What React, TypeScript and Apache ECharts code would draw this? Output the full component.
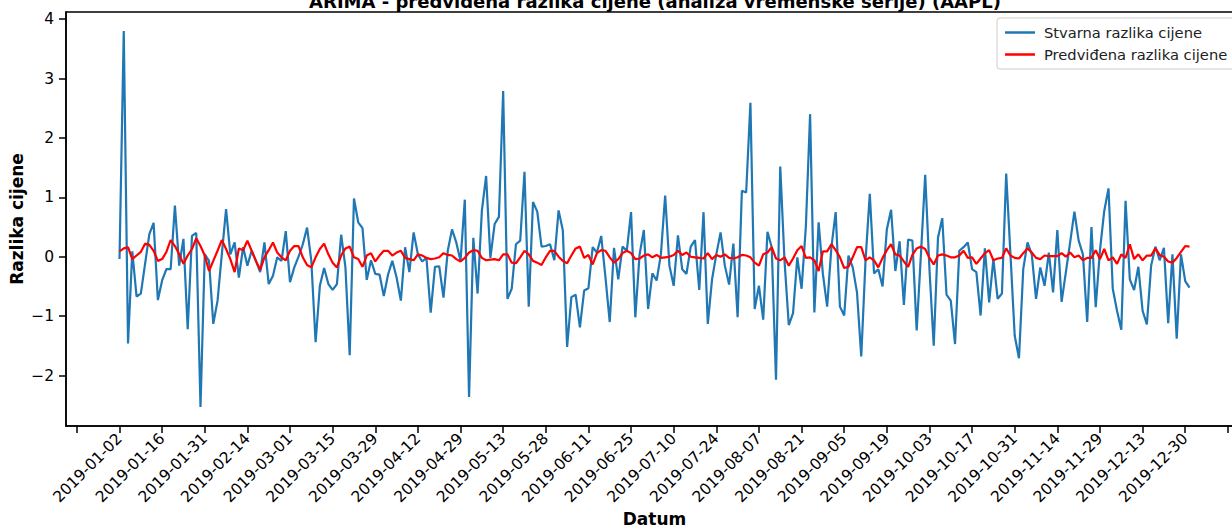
import React, { useEffect, useRef } from "react";
import * as echarts from "echarts";

const TITLE = "ARIMA - predviđena razlika cijene (analiza vremenske serije) (AAPL)";
const SERIES_ACTUAL = "Stvarna razlika cijene";
const SERIES_PRED = "Predviđena razlika cijene";

const dateLabels = [
  "2019-01-02", "2019-01-16", "2019-01-31", "2019-02-14", "2019-03-01", "2019-03-15",
  "2019-03-29", "2019-04-12", "2019-04-29", "2019-05-13", "2019-05-28", "2019-06-11",
  "2019-06-25", "2019-07-10", "2019-07-24", "2019-08-07", "2019-08-21", "2019-09-05",
  "2019-09-19", "2019-10-03", "2019-10-17", "2019-10-31", "2019-11-14", "2019-11-29",
  "2019-12-13", "2019-12-30",
];
const xTickIdx = [-10, 0, 10, 20, 30, 40, 50, 60, 70, 80, 90, 100, 110, 120, 130, 140, 150, 160, 170, 180, 190, 200, 210, 220, 230, 240, 250, 260];
const xLabelIdx = [0, 10, 20, 30, 40, 50, 60, 70, 80, 90, 100, 110, 120, 130, 140, 150, 160, 170, 180, 190, 200, 210, 220, 230, 240, 250];
const yTicks = [-2, -1, 0, 1, 2, 3, 4];

const actual = [
  -0.04, 3.8, -1.46, 0.09, -0.67, -0.62, -0.12, 0.38, 0.57, -0.73,
  -0.4, -0.21, -0.21, 0.86, -0.15, 0.3, -1.22, 0.35, 0.4, -2.53,
  0.04, -0.07, -1.13, -0.74, 0.04, 0.8, 0.04, 0.24, -0.35, 0.16,
  -0.15, 0.1, -0.07, -0.26, 0.24, -0.46, -0.32, -0.01, -0.07, 0.43,
  -0.43, -0.18, 0.0, 0.21, 0.49, -0.07, -1.44, -0.49, -0.19, -0.46,
  -0.56, -0.46, 0.37, -0.18, -1.66, 0.98, 0.58, 0.48, -0.39, -0.06,
  -0.29, -0.3, -0.66, -0.3, -0.07, -0.35, -0.74, 0.16, -0.26, 0.41,
  0.04, -0.08, -0.02, -0.94, -0.17, -0.16, -0.69, 0.1, 0.46, 0.24,
  -0.07, 0.96, -2.36, 0.32, -0.62, 0.77, 1.36, -0.02, 0.55, 0.67,
  2.79, -0.71, -0.54, 0.21, 0.27, 1.43, -0.84, 0.92, 0.76, 0.17,
  0.18, 0.21, -0.06, 0.78, 0.44, -1.52, -0.68, -0.64, -1.19, -0.57,
  -0.53, 0.16, 0.07, 0.35, -0.35, -1.1, 0.15, -0.38, 0.17, 0.1,
  0.75, -1.02, 0.04, 0.45, -0.88, -0.28, -0.4, 0.04, 1.03, -0.15,
  -0.49, 0.36, -0.21, -0.29, 0.17, 0.28, -0.56, 0.75, -1.13, -0.38,
  0.04, 0.41, -0.15, -0.47, 0.22, -1.02, 1.11, 1.08, 2.59, -0.88,
  -0.49, -1.06, 0.42, 0.16, -2.07, 1.52, -0.07, -1.15, -0.95, -0.01,
  -0.54, 0.5, 2.4, -0.94, 0.58, -0.29, -0.84, 0.16, 0.75, -0.84,
  -0.99, 0.02, -0.18, -0.6, -1.68, -0.07, 1.06, -0.28, -0.21, -0.5,
  0.46, 0.79, -0.24, 0.26, -0.81, 0.29, 0.27, -1.24, 0.04, 1.38,
  -0.21, -1.5, 0.32, 0.65, -0.64, -0.74, -1.47, 0.1, 0.16, 0.24,
  -0.21, -0.26, -0.99, 0.14, -0.77, -0.04, -0.71, -0.62, 1.4, 0.04,
  -1.33, -1.71, -0.21, 0.24, 0.04, -0.71, -0.18, -0.49, 0.07, -0.6,
  0.45, -0.76, -0.26, 0.24, 0.76, 0.27, 0.04, -1.1, 0.5, -0.85,
  0.11, 0.77, 1.15, -0.54, -0.91, -1.23, 0.94, -0.38, -0.56, -0.17,
  -0.91, -1.14, -0.15, 0.17, -0.06, 0.15, -1.12, 0.04, -1.38, 0.04,
  -0.41, -0.52,
];

const predicted = [
  0.09, 0.14, 0.16, -0.04, 0.02, 0.08, 0.22, 0.2, 0.1, -0.07,
  -0.04, 0.08, 0.28, 0.18, 0.04, -0.12, 0.02, 0.13, 0.31, 0.18,
  0.02, -0.24, -0.07, 0.1, 0.28, 0.13, -0.04, -0.26, 0.14, 0.11,
  0.27, 0.1, -0.07, -0.22, -0.01, 0.11, 0.24, 0.07, -0.01, -0.06,
  0.1, 0.18, 0.18, -0.01, -0.14, -0.18, -0.01, 0.13, 0.22, 0.04,
  -0.1, -0.18, 0.02, 0.14, 0.17, -0.01, -0.04, -0.17, 0.02, 0.06,
  -0.08, 0.02, 0.1, 0.1, 0.02, 0.07, 0.1, -0.02, -0.04, -0.06,
  0.04, 0.02, -0.02, -0.04, -0.03, -0.01, 0.06, 0.03, 0.02, -0.04,
  -0.08, -0.02, 0.07, 0.11, 0.1, -0.02, -0.06, -0.05, -0.04, -0.06,
  0.04, 0.04, -0.1, -0.11, -0.01, 0.1, 0.04, -0.07, -0.1, -0.14,
  -0.01, 0.1, 0.1, 0.0, -0.07, -0.11, 0.02, 0.14, 0.17, -0.02,
  0.03, -0.13, 0.06, 0.11, 0.1, -0.01, -0.1, -0.04, 0.06, 0.1,
  0.06, -0.04, -0.03, 0.02, 0.04, -0.01, 0.03, -0.02, -0.01, 0.0,
  0.03, 0.1, 0.03, 0.07, 0.0, -0.01, -0.02, -0.03, 0.06, -0.04,
  0.03, 0.0, 0.04, -0.02, -0.03, -0.01, 0.03, 0.02, -0.01, -0.1,
  -0.15, 0.04, 0.07, 0.16, -0.03, -0.06, -0.01, -0.15, -0.03, 0.11,
  0.18, -0.02, -0.01, -0.06, -0.24, 0.09, 0.09, 0.21, 0.11, -0.01,
  -0.19, -0.17, -0.01, 0.16, 0.16, -0.06, -0.01, -0.06, -0.18, -0.02,
  0.11, 0.21, 0.04, 0.02, -0.08, -0.17, 0.03, 0.14, 0.17, 0.13,
  -0.02, -0.13, 0.02, 0.04, 0.02, -0.01, -0.01, 0.02, 0.1, -0.02,
  -0.01, -0.12, -0.03, 0.06, 0.11, -0.06, -0.03, -0.02, 0.14, 0.02,
  -0.02, -0.03, 0.06, 0.14, 0.07, -0.02, -0.04, 0.02, 0.01, 0.01,
  0.01, 0.06, 0.0, 0.07, -0.01, 0.02, -0.06, -0.02, -0.02, 0.11,
  -0.04, 0.13, -0.06, -0.01, -0.12, 0.04, -0.02, 0.21, -0.04, 0.04,
  -0.06, 0.02, 0.02, 0.14, 0.03, 0.0, -0.08, -0.1, -0.02, 0.08,
  0.18, 0.17,
];

const FONT = "DejaVu Sans";

export default function App() {
  const ref = useRef<HTMLDivElement>(null);
  useEffect(() => {
    if (!ref.current) return;
    const chart = echarts.init(ref.current, undefined, { renderer: "svg" });
    chart.setOption({
      animation: false,
      backgroundColor: "#ffffff",
      textStyle: { fontFamily: FONT },
      graphic: [
        {
          type: "text",
          x: 655,
          y: 1,
          style: {
            text: TITLE,
            fontFamily: FONT,
            fontSize: 18,
            fontWeight: "bold",
            fill: "#000",
            textAlign: "center",
            textVerticalAlign: "middle",
          },
        },
      ],
      grid: {
        left: 66,
        top: 12,
        width: 1177,
        height: 414,
        show: true,
        borderColor: "#000",
        borderWidth: 1.5,
        backgroundColor: "transparent",
        outerBoundsMode: "none",
        containLabel: false,
      },
      legend: {
        orient: "vertical",
        left: 997,
        top: 18,
        padding: [6, 8, 6, 8],
        itemGap: 5,
        itemWidth: 30,
        itemHeight: 2.5,
        icon: "rect",
        borderColor: "#cccccc",
        borderWidth: 1,
        borderRadius: 3,
        backgroundColor: "rgba(255,255,255,0.8)",
        textStyle: { fontFamily: FONT, fontSize: 14.7, color: "#222", padding: [0, 0, 0, 4], lineHeight: 17 },
        data: [SERIES_ACTUAL, SERIES_PRED],
      },
      xAxis: {
        type: "value",
        min: -12.55,
        max: 263.55,
        name: "Datum",
        nameLocation: "middle",
        nameGap: 84,
        nameMoveOverlap: false,
        nameTextStyle: { fontFamily: FONT, fontSize: 17, fontWeight: "bold", color: "#000" },
        axisLine: { show: true, onZero: false, lineStyle: { color: "#000", width: 1.5 } },
        axisTick: { show: true, length: 7, lineStyle: { color: "#000", width: 1.5 }, customValues: xTickIdx },
        axisLabel: {
          customValues: xLabelIdx,
          formatter: (v: number) => dateLabels[Math.round(v / 10)] ?? "",
          rotate: 45,
          fontSize: 15.5,
          fontFamily: FONT,
          color: "#000",
          margin: 10,
        },
        splitLine: { show: false },
      },
      yAxis: {
        type: "value",
        min: -2.85,
        max: 4.12,
        name: "Razlika cijene",
        nameLocation: "middle",
        nameGap: 41,
        nameMoveOverlap: false,
        nameTextStyle: { fontFamily: FONT, fontSize: 17, fontWeight: "bold", color: "#000" },
        axisLine: { show: true, onZero: false, lineStyle: { color: "#000", width: 1.5 } },
        axisTick: { show: true, length: 7, lineStyle: { color: "#000", width: 1.5 }, customValues: yTicks },
        axisLabel: {
          customValues: yTicks,
          formatter: (v: number) => String(v).replace("-", "\u2212"),
          fontSize: 15.5,
          fontFamily: FONT,
          color: "#000",
          margin: 12,
        },
        splitLine: { show: false },
      },
      series: [
        {
          name: SERIES_ACTUAL,
          type: "line",
          data: actual.map((v, i) => [i, v]),
          symbol: "none",
          lineStyle: { color: "#1f77b4", width: 2.2 },
          itemStyle: { color: "#1f77b4" },
        },
        {
          name: SERIES_PRED,
          type: "line",
          data: predicted.map((v, i) => [i, v]),
          symbol: "none",
          lineStyle: { color: "#ff0000", width: 2.2 },
          itemStyle: { color: "#ff0000" },
        },
      ],
    });
    return () => chart.dispose();
  }, []);
  return (
    <div style={{ position: "fixed", left: 0, top: 0, width: 1232, height: 527, overflow: "hidden" }}>
      <div ref={ref} style={{ width: 1260, height: 527 }} />
    </div>
  );
}
